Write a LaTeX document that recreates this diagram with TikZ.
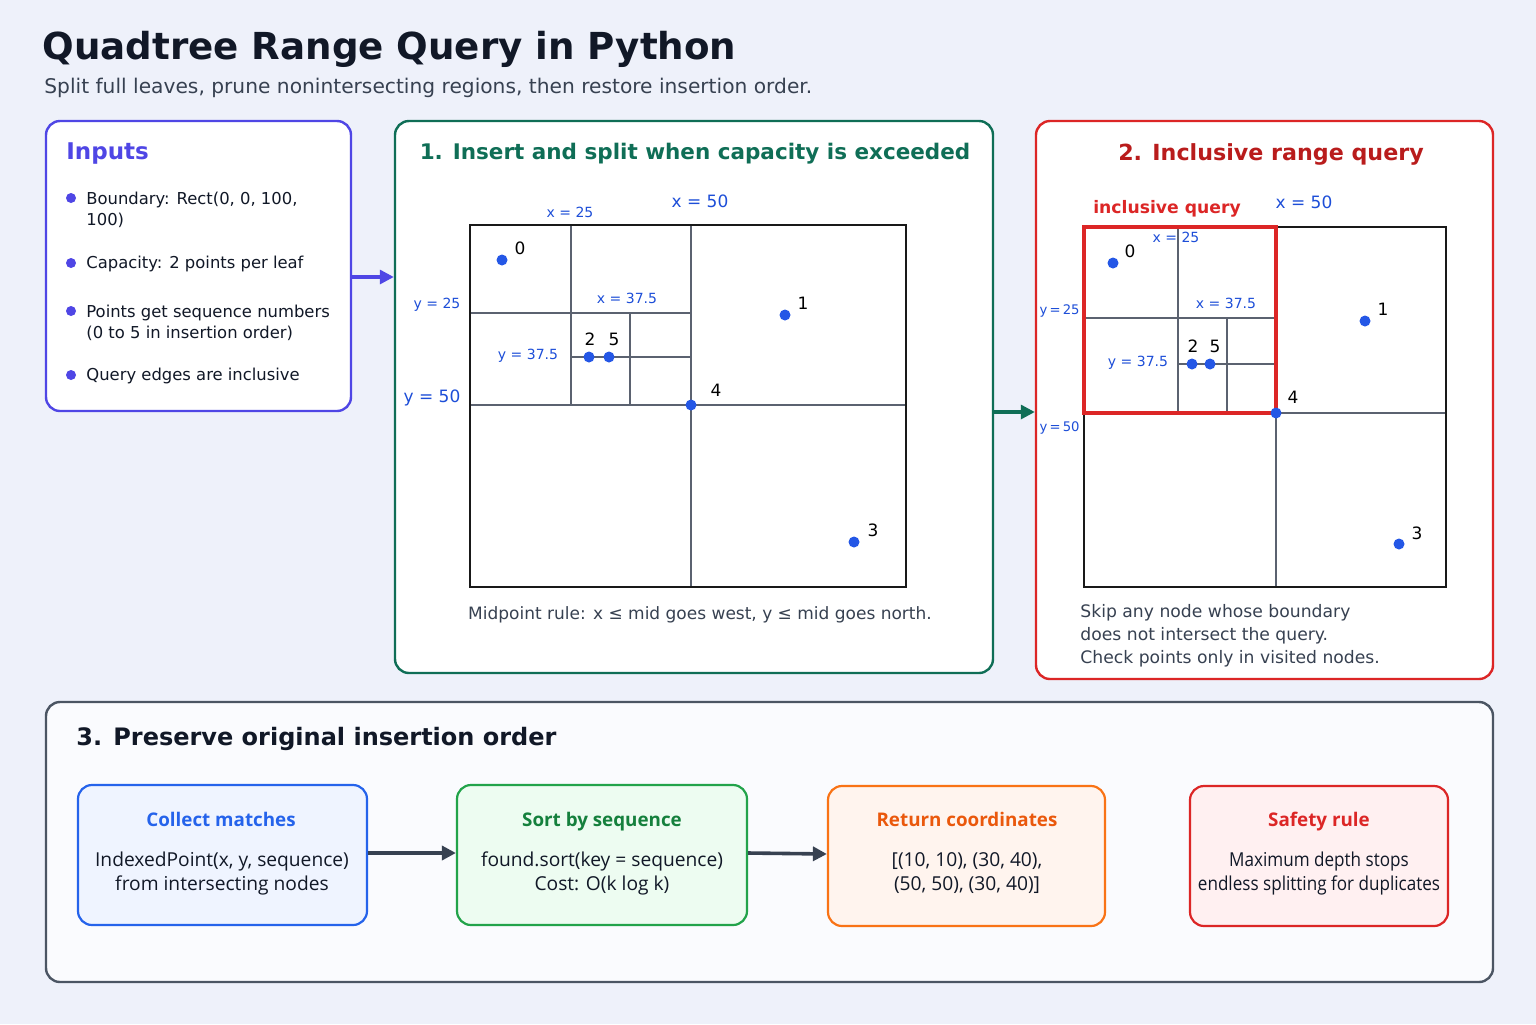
\documentclass[tikz,border=0pt]{standalone}
\usepackage{fontspec}
\setmainfont{DejaVu Sans}
\newfontfamily\boxfont{Open Sans}
\usetikzlibrary{fit,arrows.meta}
\definecolor{bgc}{HTML}{EEF1FA}
\definecolor{titlec}{HTML}{111827}
\definecolor{subc}{HTML}{374151}
\definecolor{indigoc}{HTML}{4F46E5}
\definecolor{teal1}{HTML}{0F6E56}
\definecolor{redc}{HTML}{DC2626}
\definecolor{redt}{HTML}{B91C1C}
\definecolor{grayb}{HTML}{4B5563}
\definecolor{gridc}{HTML}{5B6270}
\definecolor{lblc}{HTML}{1D4ED8}
\definecolor{ptc}{HTML}{2457E6}
\definecolor{bluec}{HTML}{2563EB}
\definecolor{bluef}{HTML}{EFF4FF}
\definecolor{greenc}{HTML}{22A34A}
\definecolor{greent}{HTML}{15803D}
\definecolor{greenf}{HTML}{EDFCF1}
\definecolor{orangec}{HTML}{F97316}
\definecolor{oranget}{HTML}{EA580C}
\definecolor{orangef}{HTML}{FFF4EE}
\definecolor{redf}{HTML}{FFF0F1}
\definecolor{darkarrow}{HTML}{374151}
\tikzset{
  panel/.style={draw, rounded corners=7pt, line width=1.2pt, fill=white, inner sep=0pt},
  flowbox/.style={draw, rounded corners=7pt, line width=1.1pt, inner sep=0pt},
  btitle/.style={anchor=base, font=\boxfont\bfseries\fontsize{9.4}{12}\selectfont},
  bbody/.style={font=\boxfont\fontsize{9.6}{12}\selectfont, text=titlec, align=center},
  gridl/.style={draw=gridc, line width=0.7pt},
  outer/.style={draw=black!90, line width=1.4pt},
  ptn/.style={circle, fill=ptc, inner sep=0pt, minimum size=5.5pt},
  num/.style={font=\fontsize{8.5}{10}\selectfont, text=black},
  sl/.style={font=\fontsize{7}{8}\selectfont, text=lblc},
  ssl/.style={font=\fontsize{6.6}{8}\selectfont, text=lblc, inner sep=0pt},
  ll/.style={font=\fontsize{8.5}{10}\selectfont, text=lblc},
  bul/.style={circle, fill=indigoc, inner sep=0pt, minimum size=5pt},
  btxt/.style={anchor=west, font=\fontsize{8.2}{10.5}\selectfont, text=titlec, align=left, inner sep=0pt},
  parrow/.style={-{Triangle[length=7pt,width=7pt]}, line width=1.6pt},
}
\begin{document}
\begin{tikzpicture}[x=0.5pt,y=-0.5pt]
\useasboundingbox (0,0) rectangle (1536,1024);
\fill[bgc] (0,0) rectangle (1536,1024);

% title
\node[anchor=west, inner sep=0pt, font=\bfseries\fontsize{18.6}{22}\selectfont, text=titlec] (title) at (42,49) {Quadtree Range Query in Python};
\node[anchor=west, inner sep=0pt, font=\fontsize{10.1}{12}\selectfont, text=subc] (sub) at (44,88) {Split full leaves, prune nonintersecting regions, then restore insertion order.};

% panels
\node[panel, draw=indigoc, fit={(46,121)(351,411)}] (inputs) {};
\node[panel, draw=teal1, fit={(395,121)(993,673)}] (p1) {};
\node[panel, draw=redc, fit={(1036,121)(1493,679)}] (p2) {};
\node[panel, draw=grayb, fill=white!70!bgc, fit={(46,702)(1493,982)}] (p3) {};

% inputs content
\node[anchor=west, inner sep=0pt, font=\bfseries\fontsize{11.5}{14}\selectfont, text=indigoc] (inT) at (66,154) {Inputs};
\node[bul] (b1) at (71,198) {};
\node[btxt, anchor=north west] (t1) at (86,192) {Boundary: Rect(0, 0, 100,\\100)};
\node[bul] (b2) at (71,263) {};
\node[btxt] (t2) at (86,264) {Capacity: 2 points per leaf};
\node[bul] (b3) at (71,311) {};
\node[btxt, anchor=north west] (t3) at (86,305) {Points get sequence numbers\\(0 to 5 in insertion order)};
\node[bul] (b4) at (71,375) {};
\node[btxt] (t4) at (86,376) {Query edges are inclusive};

% arrows between panels
\coordinate (ia) at ([yshift=-5.5pt]inputs.east);
\draw[parrow, indigoc] (ia) -- (ia -| p1.west);
\coordinate (pa) at ([yshift=-7.5pt]p1.east);
\draw[parrow, teal1] (pa) -- (pa -| p2.west);

% panel 1
\node[font=\bfseries\fontsize{10.75}{14}\selectfont, text=teal1] (p1T) at (695,154) {1. Insert and split when capacity is exceeded};
\draw[gridl] (691,225) -- (691,587);
\draw[gridl] (470,405) -- (906,405);
\draw[gridl] (571,225) -- (571,405);
\draw[gridl] (470,313) -- (691,313);
\draw[gridl] (630,313) -- (630,405);
\draw[gridl] (571,357) -- (691,357);
\draw[outer] (470,225) rectangle (906,587);
\node[sl] (g1x25) at (570,212) {x = 25};
\node[ll] (g1x50) at (700,201) {x = 50};
\node[sl] (g1y25) at (437,305) {y = 25};
\node[sl] (g1y375) at (528,356) {y = 37.5};
\node[sl] (g1x375) at (627,298) {x = 37.5};
\node[ll] (g1y50) at (432,398) {y = 50};
\node[ptn] (a0) at (502,260) {}; \node[num] (a0l) at (520,248) {0};
\node[ptn] (a1) at (785,315) {}; \node[num] (a1l) at (803,303) {1};
\node[ptn] (a2) at (589,357) {}; \node[num] (a2l) at (590,339) {2};
\node[ptn] (a5) at (609,357) {}; \node[num] (a5l) at (614,339) {5};
\node[ptn] (a4) at (691,405) {}; \node[num] (a4l) at (716,390) {4};
\node[ptn] (a3) at (854,542) {}; \node[num] (a3l) at (873,530) {3};
\node[font=\fontsize{8.5}{11}\selectfont, text=subc] (cap1) at (700,615) {Midpoint rule: x ≤ mid goes west, y ≤ mid goes north.};

% panel 2
\node[font=\bfseries\fontsize{11.1}{14}\selectfont, text=redt] (p2T) at (1271,154) {2. Inclusive range query};
\draw[gridl] (1276,227) -- (1276,587);
\draw[gridl] (1084,413) -- (1446,413);
\draw[gridl] (1178,227) -- (1178,413);
\draw[gridl] (1084,318) -- (1276,318);
\draw[gridl] (1227,318) -- (1227,413);
\draw[gridl] (1178,364) -- (1276,364);
\draw[outer] (1084,227) rectangle (1446,587);
\draw[redc, line width=2pt] (1084,227) rectangle (1276,413);
\node[font=\bfseries\fontsize{8.6}{10}\selectfont, text=redc] (iq) at (1167,209) {inclusive query};
\node[ll] (g2x50) at (1304,202) {x = 50};
\node[sl] (g2x25) at (1176,237) {x = 25};
\node[sl] (g2x375) at (1226,303) {x = 37.5};
\node[ssl, anchor=east] (g2y25) at (1080,311) {y\,=\,25};
\node[sl] (g2y375) at (1138,363) {y = 37.5};
\node[ssl, anchor=east] (g2y50) at (1080,428) {y\,=\,50};
\node[ptn] (c0) at (1113,263) {}; \node[num] (c0l) at (1130,251) {0};
\node[ptn] (c1) at (1365,321) {}; \node[num] (c1l) at (1383,309) {1};
\node[ptn] (c2) at (1192,364) {}; \node[num] (c2l) at (1193,346) {2};
\node[ptn] (c5) at (1210,364) {}; \node[num] (c5l) at (1215,346) {5};
\node[ptn] (c4) at (1276,413) {}; \node[num] (c4l) at (1293,397) {4};
\node[ptn] (c3) at (1399,544) {}; \node[num] (c3l) at (1417,533) {3};
\node[anchor=north west, inner sep=0pt, align=left, font=\fontsize{8.6}{11.5}\selectfont, text=subc] (cap2) at (1080,604) {Skip any node whose boundary\\does not intersect the query.\\Check points only in visited nodes.};

% panel 3
\node[anchor=west, inner sep=0pt, font=\bfseries\fontsize{12}{14}\selectfont, text=titlec] (p3T) at (76,739) {3. Preserve original insertion order};
\node[flowbox, draw=bluec, fill=bluef, fit={(78,785)(367,925)}] (f1) {};
\node[flowbox, draw=greenc, fill=greenf, fit={(457,785)(747,925)}] (f2) {};
\node[flowbox, draw=orangec, fill=orangef, fit={(828,786)(1105,926)}] (f3) {};
\node[flowbox, draw=redc, fill=redf, fit={(1190,786)(1448,926)}] (f4) {};
\node[btitle, text=bluec] (f1T) at (221,826) {Collect matches};
\node[bbody] (f1B) at (222,873) {IndexedPoint(x, y, sequence)\\from intersecting nodes};
\node[btitle, text=greent] (f2T) at (602,826) {Sort by sequence};
\node[bbody] (f2B) at (602,873) {found.sort(key = sequence)\\Cost: O(k log k)};
\node[btitle, text=oranget] (f3T) at (967,826) {Return coordinates};
\node[bbody] (f3B) at (967,873) {[(10, 10), (30, 40),\\(50, 50), (30, 40)]};
\node[btitle, text=redc] (f4T) at (1319,826) {Safety rule};
\node[bbody, transform shape, xscale=0.89] (f4B) at (1319,873) {Maximum depth stops\\endless splitting for duplicates};
\draw[parrow, line width=1.8pt, darkarrow] ([yshift=1pt]f1.east) -- ([yshift=1pt]f2.west);
\draw[parrow, line width=1.8pt, darkarrow] ([yshift=1pt]f2.east) -- ([yshift=1pt]f3.west);
\end{tikzpicture}
\end{document}
